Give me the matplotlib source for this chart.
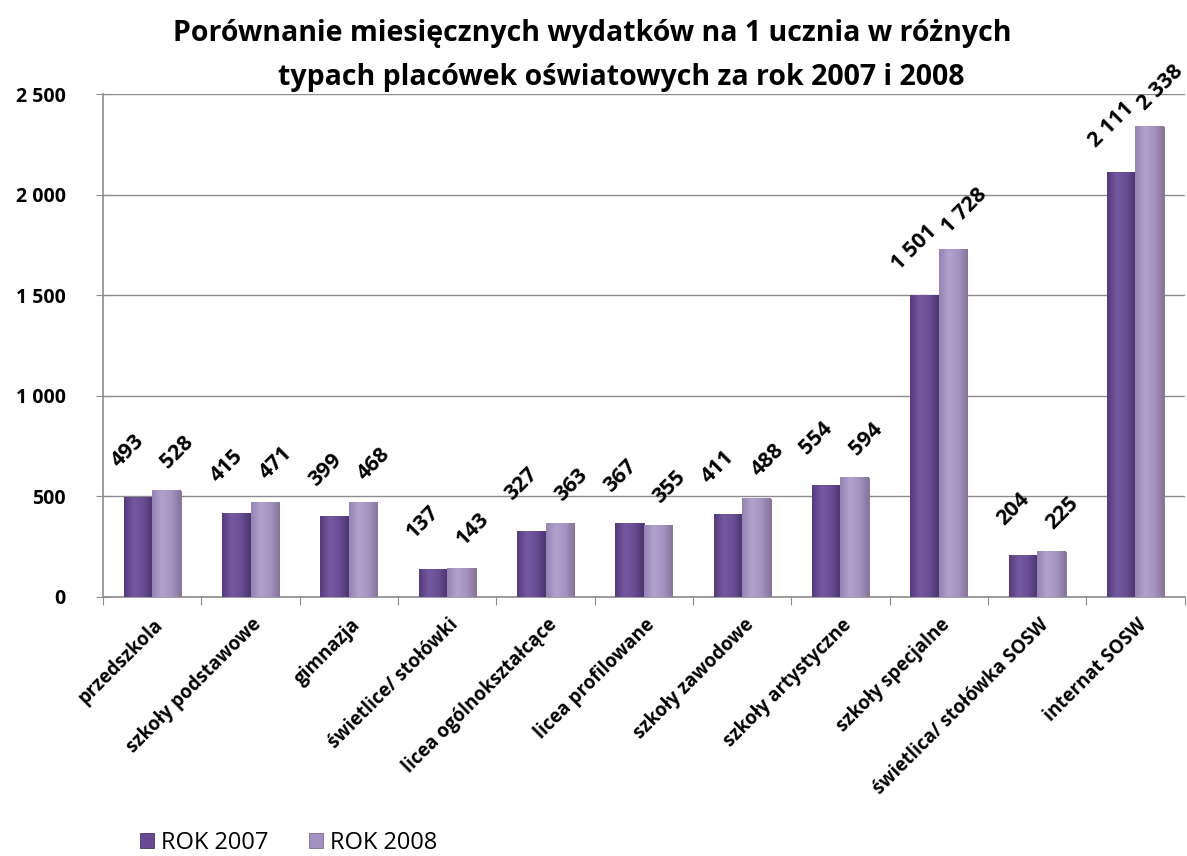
import numpy as np
import matplotlib.pyplot as plt
import matplotlib.transforms as mtransforms
from matplotlib.colors import LinearSegmentedColormap
from matplotlib.ticker import FuncFormatter, FixedLocator

plt.rcParams['font.family'] = ['Open Sans', 'DejaVu Sans']

categories = ['przedszkola', 'szkoły podstawowe', 'gimnazja', 'świetlice/ stołówki',
              'licea ogólnokształcące', 'licea profilowane', 'szkoły zawodowe',
              'szkoły artystyczne', 'szkoły specjalne', 'świetlica/ stołówka SOSW',
              'internat SOSW']
rok_2007 = [493, 415, 399, 137, 327, 367, 411, 554, 1501, 204, 2111]
rok_2008 = [528, 471, 468, 143, 363, 355, 488, 594, 1728, 225, 2338]
series_names = ['ROK 2007', 'ROK 2008']
title_lines = ['Porównanie miesięcznych wydatków na 1 ucznia w różnych',
               'typach placówek oświatowych za rok 2007 i 2008']


def fmt_thousands(v):
    return f'{int(round(v)):,}'.replace(',', ' ')


fig = plt.figure(figsize=(11.87, 8.56), dpi=100)
ax = fig.add_axes([0.0868, 0.3026, 0.9112, 0.5874])

x = np.arange(len(categories))
w = 0.29
c07, c08 = '#674a8f', '#a290c0'
cm07 = LinearSegmentedColormap.from_list('c07', ['#553b7a', '#7459a2', '#6a4e94', '#4b3470'])
cm08 = LinearSegmentedColormap.from_list('c08', ['#9583b3', '#b1a2cd', '#a593c3', '#877599'])

b1 = ax.bar(x - w / 2, rok_2007, w, color=c07, edgecolor='#4a3468', linewidth=0.6,
            label=series_names[0], zorder=3)
b2 = ax.bar(x + w / 2, rok_2008, w, color=c08, edgecolor='#7e6c9c', linewidth=0.6,
            label=series_names[1], zorder=3)

# horizontal gradient shading over each bar
grad = np.linspace(0, 1, 64).reshape(1, -1)
for bars, cmap in ((b1, cm07), (b2, cm08)):
    for b in bars:
        x0, h = b.get_x(), b.get_height()
        ax.imshow(grad, cmap=cmap, aspect='auto', interpolation='bicubic',
                  extent=(x0, x0 + b.get_width(), 0, h), zorder=3.5)

offsets = {0: (-7, 34), 1: (8, 28)}
for i, (bars, vals) in enumerate(((b1, rok_2007), (b2, rok_2008))):
    for b, v in zip(bars, vals):
        ax.annotate(fmt_thousands(v), (b.get_x() + b.get_width() / 2, v),
                    xytext=offsets[i], textcoords='offset points', rotation=45,
                    rotation_mode='anchor', ha='center', va='center',
                    fontsize=15.5, fontweight='bold', zorder=4)

ax.set_xlim(-0.5, len(categories) - 0.5)
ax.set_ylim(0, 2500)
ax.set_yticks(np.arange(0, 2501, 500))
ax.yaxis.set_major_formatter(FuncFormatter(lambda v, p: fmt_thousands(v)))
ax.grid(axis='y', color='#8c8c8c', linewidth=1, zorder=0)
ax.tick_params(axis='y', direction='inout', length=10, color='#8c8c8c', pad=22,
               labelsize=14)
for t in ax.get_yticklabels():
    t.set_fontweight('bold')

ax.xaxis.set_major_locator(FixedLocator(np.arange(len(categories) + 1) - 0.5))
ax.tick_params(axis='x', which='major', direction='out', length=6, color='#8c8c8c',
               labelbottom=False)
ax.set_xticks(x, categories, minor=True)
ax.tick_params(axis='x', which='minor', length=0, pad=18)
shift = mtransforms.ScaledTranslation(6 / 72, 0, fig.dpi_scale_trans)
for t in ax.get_xticklabels(minor=True):
    t.set_rotation(45)
    t.set_ha('right')
    t.set_va('center')
    t.set_rotation_mode('anchor')
    t.set_fontweight('bold')
    t.set_fontsize(13.5)
    t.set_transform(t.get_transform() + shift)

ax.set_axisbelow(True)
for s in ('top', 'right'):
    ax.spines[s].set_visible(False)
for s in ('left', 'bottom'):
    ax.spines[s].set_color('#8c8c8c')
    ax.spines[s].set_linewidth(1.2)

fig.text(0.499, 1 - 33 / 856, title_lines[0], ha='center', va='center', fontsize=20.5,
         fontweight='bold')
fig.text(0.523, 1 - 77 / 856, title_lines[1], ha='center', va='center', fontsize=20.5,
         fontweight='bold')

fig.legend(handles=[b1, b2], loc='center left', bbox_to_anchor=(0.11, 1 - 843 / 856),
           ncol=2, frameon=False, fontsize=17, handlelength=0.6, handleheight=0.6,
           columnspacing=1.7, handletextpad=0.3, borderaxespad=0)

fig.savefig('out.png', dpi=100)
